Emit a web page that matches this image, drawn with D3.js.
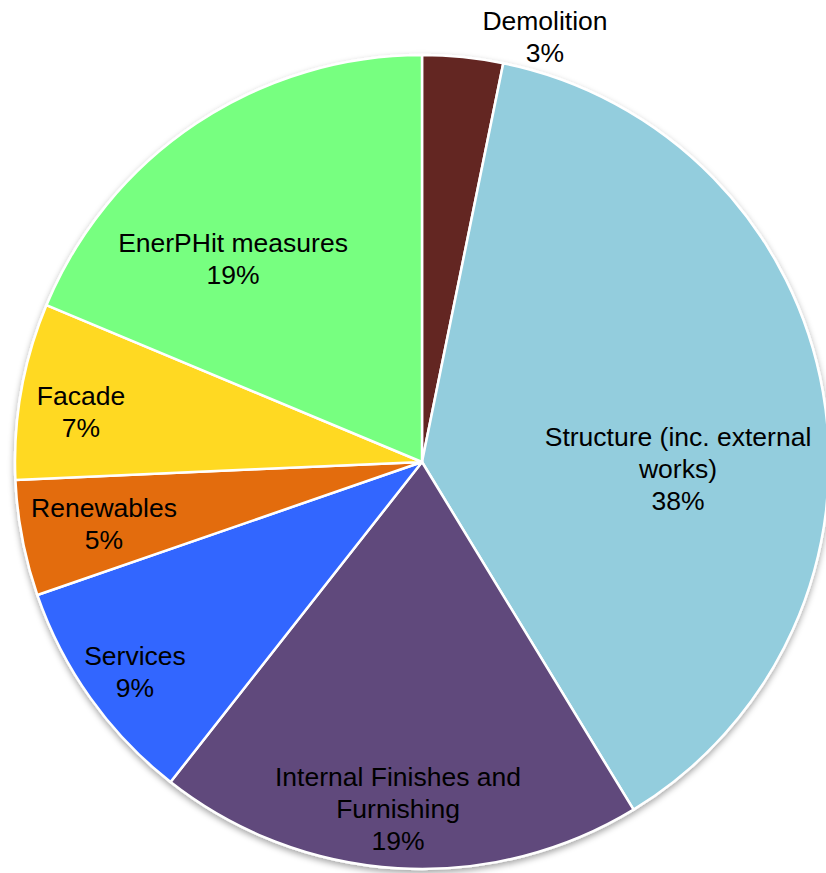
<!DOCTYPE html>
<html>
<head>
<meta charset="utf-8">
<script src="https://cdn.jsdelivr.net/npm/d3@7"></script>
<style>
  html, body { margin: 0; padding: 0; background: #ffffff; }
  svg { display: block; }
</style>
</head>
<body>
<div id="chart"></div>
<script>
// Cost breakdown, clockwise from 12 o'clock
const categories = [
  "Demolition",
  "Structure (inc. external works)",
  "Internal Finishes and Furnishing",
  "Services",
  "Renewables",
  "Facade",
  "EnerPHit measures"
];
const shares = [3.2, 38.1, 19.3, 9.1, 4.6, 7.0, 18.7];   // percent of total
const labelLines = [
  ["Demolition"],
  ["Structure (inc. external", "works)"],
  ["Internal Finishes and", "Furnishing"],
  ["Services"],
  ["Renewables"],
  ["Facade"],
  ["EnerPHit measures"]
];
const sliceColors = ["#632523", "#93CDDD", "#604A7B", "#3366FF", "#E36C09", "#FFD922", "#77FF80"];

// Label block centres, relative to the pie centre
const labelOffsets = [
  [123, -425], [256, 7], [-24, 347], [-287, 210], [-318, 62], [-341, -50], [-189, -203]
];

const W = 826, H = 873;
const cx = 422, cy = 462, R = 407;
const fontSize = 26.5, lineGap = 32;

const svg = d3.select("#chart").append("svg")
  .attr("width", W).attr("height", H)
  .attr("viewBox", `0 0 ${W} ${H}`);

const defs = svg.append("defs");
const shadow = defs.append("filter").attr("id", "pie-shadow")
  .attr("x", "-10%").attr("y", "-10%").attr("width", "120%").attr("height", "120%");
shadow.append("feDropShadow")
  .attr("dx", 0).attr("dy", 3).attr("stdDeviation", 3)
  .attr("flood-color", "#000").attr("flood-opacity", 0.35);

const data = categories.map((c, i) => ({ name: c, value: shares[i], idx: i }));
const total = d3.sum(shares);
const pct = d3.format(".0%");

const pie = d3.pie().value(d => d.value).sort(null);
const arc = d3.arc().innerRadius(0).outerRadius(R);

const g = svg.append("g").attr("transform", `translate(${cx},${cy})`);

g.append("g").attr("filter", "url(#pie-shadow)")
  .selectAll("path")
  .data(pie(data))
  .join("path")
  .attr("d", arc)
  .attr("fill", d => sliceColors[d.data.idx])
  .attr("stroke", "#ffffff")
  .attr("stroke-width", 2.5)
  .attr("stroke-linejoin", "round");

const labels = g.append("g")
  .attr("font-family", "'Liberation Sans', Arial, sans-serif")
  .attr("font-size", fontSize)
  .attr("fill", "#000")
  .attr("text-anchor", "middle");

data.forEach((d, i) => {
  const lines = labelLines[i].concat([pct(d.value / total)]);
  const [ox, oy] = labelOffsets[i];
  const firstCenter = oy - (lines.length - 1) * lineGap / 2;
  const t = labels.append("text");
  lines.forEach((ln, k) => {
    t.append("tspan")
      .attr("x", ox)
      .attr("y", firstCenter + k * lineGap)
      .attr("dy", "0.35em")
      .text(ln);
  });
});
</script>
</body>
</html>
